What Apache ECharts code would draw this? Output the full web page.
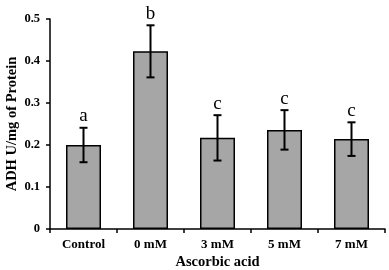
<!DOCTYPE html>
<html><head><meta charset="utf-8">
<script src="https://cdn.jsdelivr.net/npm/echarts@6/dist/echarts.min.js"></script>
<style>html,body{margin:0;padding:0;background:#fff}#c{width:389px;height:270px}</style>
</head><body><div id="c"></div>
<script>
var categories = ['Control', '0 mM', '3 mM', '5 mM', '7 mM'];
var values = [0.200, 0.423, 0.217, 0.236, 0.214];
var errors = [0.041, 0.062, 0.054, 0.047, 0.040];
var letters = ['a', 'b', 'c', 'c', 'c'];
var yTicks = [0, 0.1, 0.2, 0.3, 0.4, 0.5];

var serif = '"Liberation Serif", "Times New Roman", serif';
var chart = echarts.init(document.getElementById('c'));
var errData = values.map(function (v, i) { return [i, v - errors[i], v + errors[i], letters[i]]; });
chart.setOption({
  animation: false,
  grid: { left: 50, right: 4, top: 19, bottom: 41, containLabel: false, outerBoundsMode: 'none' },
  xAxis: {
    type: 'category', data: categories,
    name: 'Ascorbic acid', nameLocation: 'middle', nameGap: 26, nameMoveOverlap: false,
    nameTextStyle: { fontFamily: serif, fontWeight: 'bold', fontSize: 14.5, color: '#000' },
    axisLine: { lineStyle: { color: '#000', width: 1.5 } },
    axisTick: { show: true, length: 4, lineStyle: { color: '#000', width: 1.5 } },
    axisLabel: { fontFamily: serif, fontWeight: 'bold', fontSize: 13, color: '#000', margin: 9 }
  },
  yAxis: {
    type: 'value', min: 0, max: 0.5, interval: 0.1,
    name: 'ADH U/mg of Protein', nameLocation: 'middle', nameGap: 30, nameMoveOverlap: false,
    nameTextStyle: { fontFamily: serif, fontWeight: 'bold', fontSize: 14.5, color: '#000' },
    axisLine: { show: true, lineStyle: { color: '#000', width: 1.5 } },
    axisTick: { show: true, length: 4, lineStyle: { color: '#000', width: 1.5 } },
    splitLine: { show: false },
    axisLabel: { fontFamily: serif, fontWeight: 'bold', fontSize: 12.5, color: '#000', margin: 10,
      formatter: function (v) { var s = yTicks.indexOf(Math.round(v * 10) / 10) >= 0 ? String(Math.round(v * 10) / 10) : ''; return s; } }
  },
  series: [
    { type: 'bar', data: values, barWidth: 35,
      itemStyle: { color: '#a6a6a6', borderColor: '#000', borderWidth: 1.5 } },
    { type: 'custom', data: errData, z: 10,
      renderItem: function (params, api) {
        var x = api.value(0);
        var lo = api.coord([x, api.value(1)]);
        var hi = api.coord([x, api.value(2)]);
        var hw = 4;
        var st = { stroke: '#000', lineWidth: 2 };
        return { type: 'group', children: [
          { type: 'line', shape: { x1: hi[0], y1: hi[1], x2: lo[0], y2: lo[1] }, style: st },
          { type: 'line', shape: { x1: hi[0] - hw, y1: hi[1], x2: hi[0] + hw, y2: hi[1] }, style: st },
          { type: 'line', shape: { x1: lo[0] - hw, y1: lo[1], x2: lo[0] + hw, y2: lo[1] }, style: st },
          { type: 'text', style: { text: api.value(3), x: hi[0], y: hi[1] - 2, align: 'center', verticalAlign: 'bottom',
            font: '19px ' + serif, fill: '#000' } }
        ] };
      }
    }
  ]
});
</script></body></html>
